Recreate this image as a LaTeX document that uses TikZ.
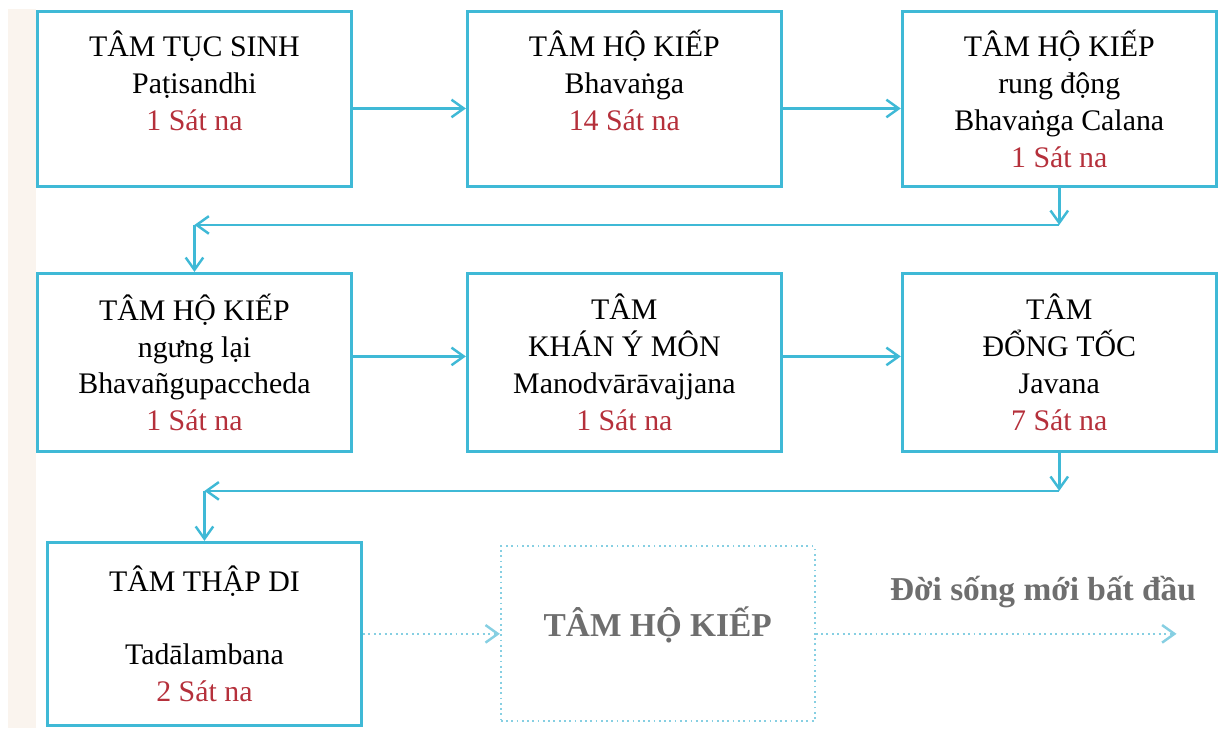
\documentclass[tikz,border=0pt]{standalone}
\usepackage{fontspec}
\setmainfont{Liberation Serif}
\usepackage{xcolor}
\usepackage{tikz}
\usetikzlibrary{arrows.meta, positioning, calc}
\definecolor{skyline}{HTML}{3FB9D6}
\definecolor{paleline}{HTML}{86CFE2}
\definecolor{satred}{HTML}{B5303B}
\definecolor{greytext}{HTML}{6E6E6E}
\definecolor{sidebar}{HTML}{FAF4EE}
\tikzstyle{arrow} = [line width=1.4pt, draw=skyline, -{Straight Barb[length=7pt,width=10pt]}]
\tikzstyle{dotarrow} = [line width=1.1pt, draw=paleline, dotted, -{Straight Barb[length=7pt,width=10pt,line width=1.4pt]}]
\tikzstyle{cardbox} = [rectangle, minimum width=6.28cm, minimum height=3.5cm, align=center, draw=skyline, line width=1.7pt, inner sep=0pt, font=\fontsize{17pt}{21pt}\selectfont]
\newcommand{\sat}[1]{\textcolor{satred}{#1}}

\begin{document}
\begin{tikzpicture}[x=0.02cm, y=-0.02cm]
    \useasboundingbox (0,0) rectangle (1225,728);
    % Franja lateral
    \fill [sidebar] (8,9) rectangle (36,728);

    % Fila 1
    \node (patisandhi) [cardbox, anchor=north west] at (36,10) {TÂM TỤC SINH\\Paṭisandhi\\\sat{1 Sát na}\\~};
    \node (bhavanga) [cardbox, right=2.26cm of patisandhi] {TÂM HỘ KIẾP\\Bhavaṅga\\\sat{14 Sát na}\\~};
    \node (calana) [cardbox, right=2.36cm of bhavanga] {TÂM HỘ KIẾP\\rung động\\Bhavaṅga Calana\\\sat{1 Sát na}};

    % Fila 2
    \node (upaccheda) [cardbox, minimum height=3.56cm, below=1.68cm of patisandhi] {TÂM HỘ KIẾP\\ngưng lại\\Bhavañgupaccheda\\\sat{1 Sát na}};
    \node (avajjana) [cardbox, minimum height=3.56cm, right=2.26cm of upaccheda] {TÂM\\KHÁN Ý MÔN\\Manodvārāvajjana\\\sat{1 Sát na}};
    \node (javana) [cardbox, minimum height=3.56cm, right=2.36cm of avajjana] {TÂM\\ĐỔNG TỐC\\Javana\\\sat{7 Sát na}};

    % Fila 3
    \node (tadalambana) [cardbox, minimum height=3.66cm, below=1.76cm of upaccheda, xshift=0.2cm] {TÂM THẬP DI\\~\\Tadālambana\\\sat{2 Sát na}};
    \node (nextlife) [cardbox, draw=paleline, line width=1pt, dotted, right=2.74cm of tadalambana, text depth=0.5cm, text=greytext, font=\bfseries\fontsize{19pt}{23pt}\selectfont] {TÂM HỘ KIẾP};
    \node (newlife) [text=greytext, font=\bfseries\fontsize{19pt}{23pt}\selectfont] at (1043,592) {Đời sống mới bất đầu};

    % Flechas
    \draw [arrow] ([yshift=-0.19cm]patisandhi.east) -- ([yshift=-0.19cm]bhavanga.west);
    \draw [arrow] ([yshift=-0.19cm]bhavanga.east) -- ([yshift=-0.19cm]calana.west);
    \draw [arrow] ([yshift=0.12cm]upaccheda.east) -- ([yshift=0.12cm]avajjana.west);
    \draw [arrow] ([yshift=0.12cm]avajjana.east) -- ([yshift=0.12cm]javana.west);

    % Vueltas entre filas
    \coordinate [below=0.74cm of calana.south] (turn1);
    \coordinate (turn2) at (turn1 -| upaccheda.north);
    \draw [arrow] (calana) -- (turn1);
    \draw [arrow] (turn1) -- (turn2);
    \draw [arrow] (turn2) -- (upaccheda);
    \coordinate [below=0.76cm of javana.south] (turn3);
    \coordinate (turn4) at (turn3 -| tadalambana.north);
    \draw [arrow] (javana) -- (turn3);
    \draw [arrow] (turn3) -- (turn4);
    \draw [arrow] (turn4) -- (tadalambana);

    % Vida siguiente
    \coordinate [right=7.22cm of nextlife.east] (lifeend);
    \draw [dotarrow] (tadalambana) -- (nextlife);
    \draw [dotarrow] (nextlife) -- (lifeend);
\end{tikzpicture}
\end{document}
